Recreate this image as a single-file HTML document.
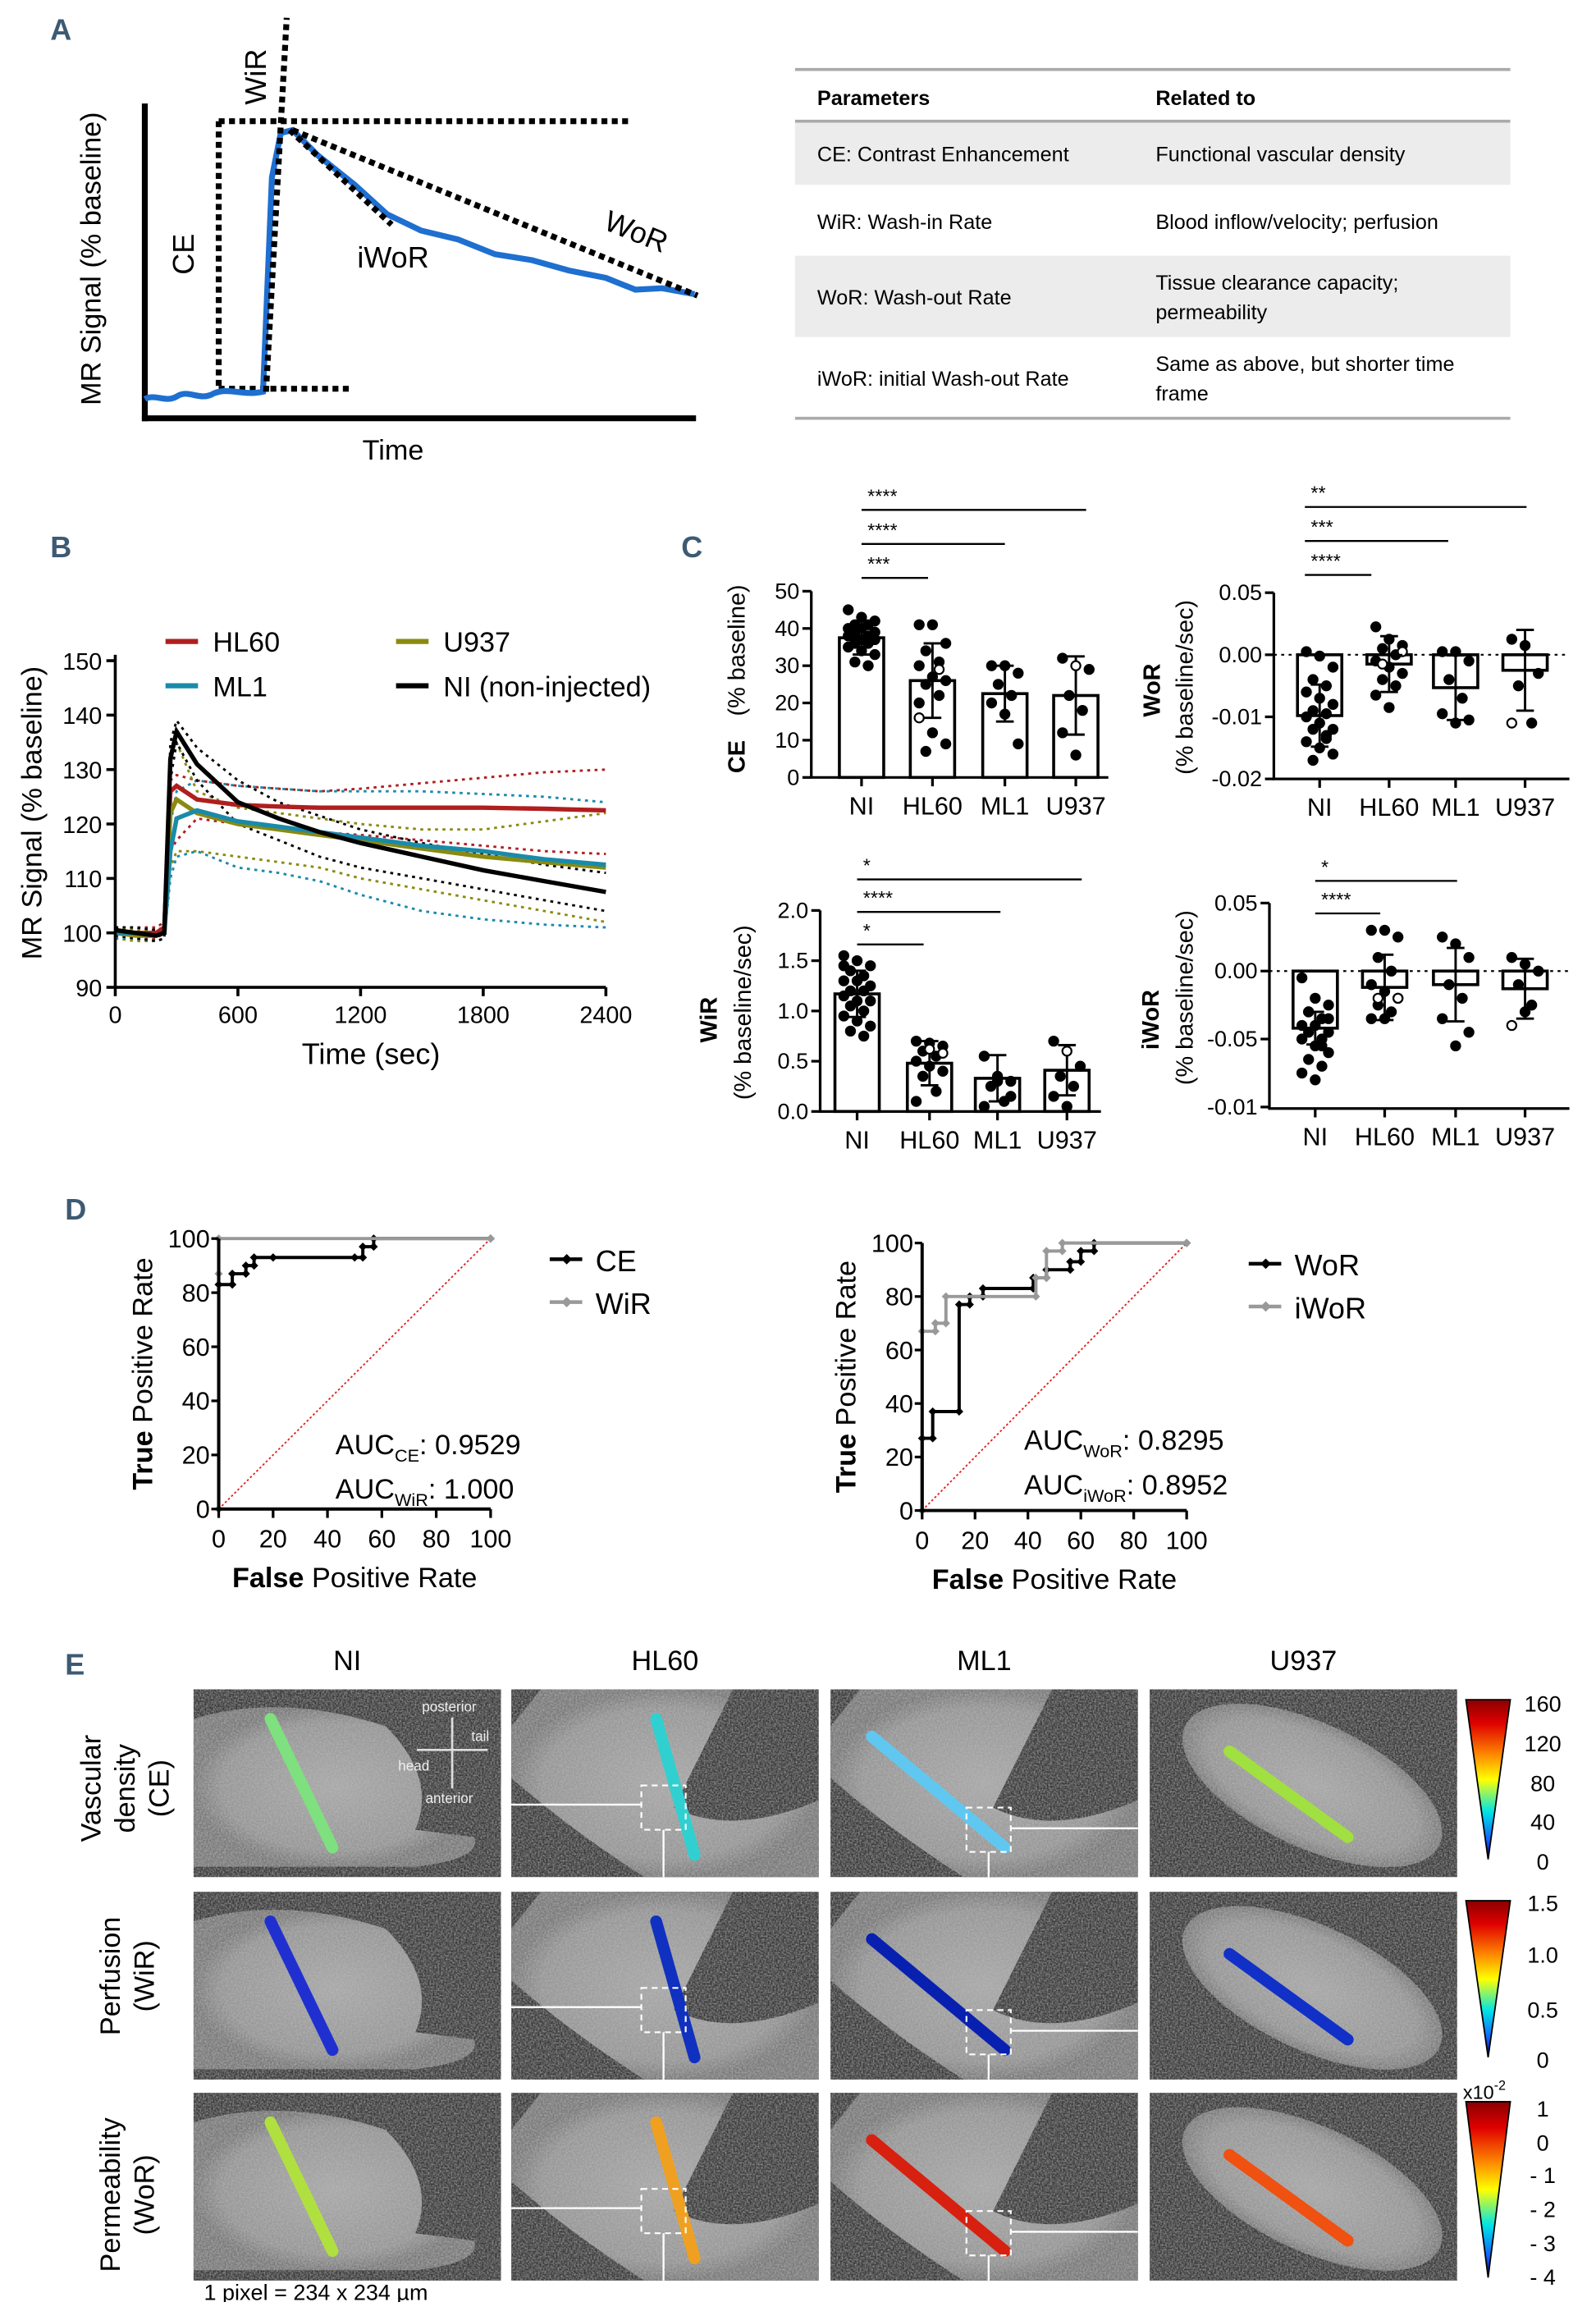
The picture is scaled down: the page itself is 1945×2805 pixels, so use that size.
<!DOCTYPE html>
<html><head><meta charset="utf-8">
<style>
html,body{margin:0;padding:0;background:#fff;}
svg{display:block;font-family:"Liberation Sans Narrow","Liberation Sans",sans-serif;}
.ar{font-family:"Liberation Sans",sans-serif;}
</style></head>
<body>
<svg id="fig" xmlns="http://www.w3.org/2000/svg" width="1945" height="2805" viewBox="0 0 1080 1557.5">
<defs>
<linearGradient id="jet" x1="0" y1="0" x2="0" y2="1">
<stop offset="0" stop-color="#8b0000"/><stop offset="0.15" stop-color="#e00000"/><stop offset="0.35" stop-color="#ff8c00"/><stop offset="0.5" stop-color="#ffff00"/><stop offset="0.7" stop-color="#00e5e5"/><stop offset="0.88" stop-color="#1060ff"/><stop offset="1" stop-color="#000090"/>
</linearGradient>
<radialGradient id="tissue" cx="0.5" cy="0.5" r="0.5"><stop offset="0" stop-color="#a8a8a8"/><stop offset="0.8" stop-color="#959595"/><stop offset="1" stop-color="#787878"/></radialGradient>
<filter id="noise" x="0" y="0" width="1" height="1">
<feTurbulence type="fractalNoise" baseFrequency="0.9" numOctaves="2" seed="3" result="t"/>
<feColorMatrix in="t" type="matrix" values="0 0 0 0 0.5  0 0 0 0 0.5  0 0 0 0 0.5  1.2 0 0 0 -0.35" result="n"/>
<feComposite in="n" in2="SourceGraphic" operator="in"/>
</filter>
</defs>

<!-- Panel labels -->
<text x="34" y="27" font-size="20" font-weight="bold" fill="#3d5a73">A</text>
<text x="34" y="377" font-size="20" font-weight="bold" fill="#3d5a73">B</text>
<text x="461" y="377" font-size="20" font-weight="bold" fill="#3d5a73">C</text>
<text x="44" y="825" font-size="20" font-weight="bold" fill="#3d5a73">D</text>
<text x="44" y="1133" font-size="20" font-weight="bold" fill="#3d5a73">E</text>

<!-- Panel A schematic -->
<g>
<line x1="98" y1="70" x2="98" y2="285" stroke="#000" stroke-width="4"/>
<line x1="96" y1="283" x2="471" y2="283" stroke="#000" stroke-width="4"/>
<text class="ar" transform="translate(68,175) rotate(-90)" text-anchor="middle" font-size="19">MR Signal (% baseline)</text>
<text class="ar" x="266" y="311" text-anchor="middle" font-size="19">Time</text>
<line x1="148" y1="82" x2="148" y2="265" stroke="#000" stroke-width="4" stroke-dasharray="4,3"/>
<line x1="148" y1="82" x2="428" y2="82" stroke="#000" stroke-width="4" stroke-dasharray="4,3"/>
<line x1="148" y1="263" x2="238" y2="263" stroke="#000" stroke-width="4" stroke-dasharray="4,3"/>
<path d="M98,270 C105,266 112,273 120,268 C128,263 135,272 145,266 C155,262 165,268 178,265 L184,120 L190,90 L198,88 L215,105 L240,125 L262,145 L285,156 L310,162 L335,172 L360,176 L385,183 L410,188 L430,196 L448,195 L470,199" fill="none" stroke="#1e6fd0" stroke-width="4"/>
<line x1="180" y1="265" x2="194" y2="12" stroke="#000" stroke-width="4" stroke-dasharray="4,3"/>
<line x1="196" y1="88" x2="265" y2="152" stroke="#000" stroke-width="4" stroke-dasharray="4,3"/>
<line x1="198" y1="88" x2="472" y2="200" stroke="#000" stroke-width="4" stroke-dasharray="4,3"/>
<text class="ar" transform="translate(180,52) rotate(-90)" text-anchor="middle" font-size="20">WiR</text>
<text class="ar" transform="translate(131,172) rotate(-90)" text-anchor="middle" font-size="20">CE</text>
<text class="ar" x="266" y="181" text-anchor="middle" font-size="20">iWoR</text>
<text class="ar" transform="translate(428,163) rotate(22)" text-anchor="middle" font-size="20">WoR</text>
</g>

<!-- Parameters table -->
<g font-size="14" class="ar">
<line x1="538" y1="47" x2="1022" y2="47" stroke="#aaa" stroke-width="2"/>
<text x="553" y="71" font-weight="bold">Parameters</text>
<text x="782" y="71" font-weight="bold">Related to</text>
<line x1="538" y1="82" x2="1022" y2="82" stroke="#aaa" stroke-width="2"/>
<rect x="538" y="83" width="484" height="42" fill="#ececec"/>
<text x="553" y="109">CE: Contrast Enhancement</text>
<text x="782" y="109">Functional vascular density</text>
<text x="553" y="155">WiR: Wash-in Rate</text>
<text x="782" y="155">Blood inflow/velocity; perfusion</text>
<rect x="538" y="173" width="484" height="55" fill="#ececec"/>
<text x="553" y="206">WoR: Wash-out Rate</text>
<text x="782" y="196">Tissue clearance capacity;</text>
<text x="782" y="216">permeability</text>
<text x="553" y="261">iWoR: initial Wash-out Rate</text>
<text x="782" y="251">Same as above, but shorter time</text>
<text x="782" y="271">frame</text>
<line x1="538" y1="283" x2="1022" y2="283" stroke="#aaa" stroke-width="2"/>
</g>

<g id="gB"></g>
<g id="gC"></g>
<g id="gD"></g>
<g id="gE"></g>
</svg>

<script>
// ---------- Panel B data ----------
const tB = [0,100,200,240,270,300,400,600,800,1000,1200,1500,1800,2100,2400];
const hl60Mean = [100,100,100,101,126,127,124.5,123.5,123.2,123,123,123,123,122.8,122.5];
const hl60Hi = [101,101,101,102,128,129,128,127,126.5,126,126.5,127.5,128.5,129.5,130];
const hl60Lo = [99,99,99,100,115,117,121,120,119.5,118.5,118,117,116,115,114.5];
const ml1Mean = [100,100,99.5,100,115,121,122.5,120.5,119.5,118.5,117.5,116,115,113.5,112.5];
const ml1Hi = [101,101,100.5,101,120,126,128,127,126.5,126,126,126,125.5,125,124];
const ml1Lo = [99,99,98.5,99,110,114,115,112,111,109.5,107,104,102.5,101.5,101];
const u937Mean = [100,99.5,99.5,100,122,124.5,122,120,119,118,117,115.5,114,113,112];
const u937Hi = [101,100.5,100.5,101,133,135,126,123,122,121,120,119,119,120.5,122];
const u937Lo = [99,98.5,98.5,99,112,115,115,114,113,112,110,108,106,104,102];
const niMean = [100.5,100,99.5,100,132,137,131,124,121,118.5,116.5,114,111.5,109.5,107.5];
const niHi = [101,101,100.5,101,135,139,134,128,124,121.5,119,116.5,114.5,112.5,111];
const niLo = [99.5,99,98.5,99,128,135,128,120,117,114,112,110,108,106,104];
const bYTicks = [90,100,110,120,130,140,150];
const bXTicks = [0,600,1200,1800,2400];

// ---------- Panel C data ----------
const groups = ["NI","HL60","ML1","U937"];
const ceMean = [37.5,26,22.5,22];
const ceSD = [4.5,10,7.5,10.5];
const cePts = [[45,43,42,41,41,40,40,39,39,38,38,37,37,36,36,35,34,33,31,30],[41,41,36,34,31,30,27,26,25,22,20,12,9,7,29,16],[30,30,28,25,22,20,17,9],[32,30,29,22,18,12,6]];
const worMean = [-0.0098,-0.0015,-0.0053,-0.0025];
const worSD = [0.005,0.0045,0.0052,0.0065];
const worPts = [[0.0005,-0.0002,-0.002,-0.004,-0.005,-0.006,-0.007,-0.008,-0.009,-0.0095,-0.01,-0.011,-0.012,-0.012,-0.013,-0.014,-0.015,-0.016,-0.017,-0.0135],[0.0045,0.0025,0.0015,0.001,0,-0.001,-0.002,-0.003,-0.004,-0.005,-0.0065,-0.0085,0.0005,-0.0015],[0.0005,0.0005,-0.001,-0.004,-0.007,-0.0095,-0.011,-0.0105],[0.0025,0.0015,-0.003,-0.005,-0.011,-0.011]];
const wirMean = [1.17,0.48,0.33,0.41];
const wirSD = [0.23,0.22,0.23,0.25];
const wirPts = [[1.55,1.5,1.45,1.4,1.35,1.3,1.3,1.25,1.2,1.2,1.15,1.1,1.1,1.05,1.0,0.95,0.9,0.85,0.8,0.75,1.45],[0.7,0.68,0.65,0.6,0.55,0.5,0.45,0.4,0.35,0.2,0.1,0.62,0.58],[0.55,0.35,0.3,0.25,0.1,0.05,0.3,0.15],[0.7,0.6,0.45,0.35,0.25,0.15,0.05]];
const iworMean = [-0.042,-0.012,-0.01,-0.013];
const iworSD = [0.012,0.024,0.027,0.022];
const iworPts = [[-0.005,-0.02,-0.025,-0.03,-0.035,-0.04,-0.04,-0.045,-0.045,-0.05,-0.05,-0.055,-0.06,-0.065,-0.07,-0.075,-0.08,-0.035,-0.03,-0.055],[0.03,0.03,0.025,0.01,0,-0.01,-0.015,-0.02,-0.025,-0.03,-0.035,-0.035,-0.02,-0.02],[0.025,0.02,0.01,-0.01,-0.02,-0.035,-0.055,-0.045],[0.01,0.005,0,-0.01,-0.025,-0.04,-0.03]];
const ceTicks = [0,10,20,30,40,50];
const worTicks = [0.01,0,-0.01,-0.02];
const worTickLabels = ["0.05","0.00","-0.01","-0.02"];
const wirTicks = [0,0.5,1.0,1.5,2.0];
const wirTickLabels = ["0.0","0.5","1.0","1.5","2.0"];
const iworTicks = [0.05,0,-0.05,-0.1];
const iworTickLabels = ["0.05","0.00","-0.05","-0.01"];

// ---------- Panel D data ----------
const rocCeX = [0,0,5,5,10,10,13,13,20,50,53,53,57,57,100];
const rocCeY = [0,83,83,87,87,90,90,93,93,93,93,97,97,100,100];
const rocWirX = [0,0,0,100];
const rocWirY = [0,87,100,100];
const rocWorX = [0,0,4,4,14,14,18,18,23,23,42,42,47,47,56,56,60,60,65,65,100];
const rocWorY = [0,27,27,37,37,77,77,80,80,83,83,87,87,90,90,93,93,97,97,100,100];
const rocIworX = [0,0,5,5,9,9,43,43,47,47,53,53,100];
const rocIworY = [0,67,67,70,70,80,80,87,87,97,97,100,100];
const rocTicks = [0,20,40,60,80,100];

const NS = "http://www.w3.org/2000/svg";
function mk(tag, a, parent){ const e=document.createElementNS(NS,tag); for(const k in a) e.setAttribute(k,a[k]); parent.appendChild(e); return e; }
function txt(parent, s, a){ const e=mk("text",a,parent); e.textContent=s; return e; }

// ================= Panel B =================
(function(){
  const g = document.getElementById("gB");
  const x0=78,x1=410,y0=668,y1=447;
  const X = t => x0 + (t/2400)*(x1-x0);
  const Y = v => y0 - (v-90)/60*(y0-y1);
  const pathOf = (ts,vs) => ts.map((t,i)=>(i?"L":"M")+X(t).toFixed(1)+","+Y(vs[i]).toFixed(1)).join(" ");
  const series = [
    ["hl60", "#b01e1e", hl60Mean, hl60Hi, hl60Lo],
    ["u937", "#8a8a10", u937Mean, u937Hi, u937Lo],
    ["ml1", "#1a8aaa", ml1Mean, ml1Hi, ml1Lo],
    ["ni", "#000000", niMean, niHi, niLo]
  ];
  series.forEach(s=>{
    const hi = mk("path",{d:pathOf(tB,s[3]),fill:"none",stroke:s[1],"stroke-width":1.6,"stroke-dasharray":"2,3"},g);
    
    
    const lo = mk("path",{d:pathOf(tB,s[4]),fill:"none",stroke:s[1],"stroke-width":1.6,"stroke-dasharray":"2,3"},g);
    
    
  });
  series.forEach(s=>{
    const m = mk("path",{d:pathOf(tB,s[2]),fill:"none",stroke:s[1],"stroke-width":3},g);
    
    
  });
  const ax = mk("path",{d:`M${x0},${y1-4} L${x0},${y0} L${x1},${y0}`,fill:"none",stroke:"#000","stroke-width":2},g);
  
  
  bYTicks.forEach(v=>{
    const tk = mk("line",{x1:x0-6,x2:x0,y1:Y(v),y2:Y(v),stroke:"#000","stroke-width":2},g);
    
    
    const tl = txt(g, String(v), {x:x0-9,y:Y(v)+6,"text-anchor":"end","font-size":16});
    
    
  });
  bXTicks.forEach(v=>{
    const tk = mk("line",{x1:X(v),x2:X(v),y1:y0,y2:y0+6,stroke:"#000","stroke-width":2},g);
    
    
    const tl = txt(g, String(v), {x:X(v),y:y0+24,"text-anchor":"middle","font-size":16});
    
    
  });
  const yt = txt(g,"MR Signal (% baseline)",{transform:"translate(28,550) rotate(-90)","text-anchor":"middle","font-size":19,class:"ar"});
  
  
  const xt = txt(g,"Time (sec)",{x:251,y:720,"text-anchor":"middle","font-size":20});
  
  
  const leg = [["HL60","#b01e1e",112,434],["ML1","#1a8aaa",112,464],["U937","#8a8a10",268,434],["NI (non-injected)","#000",268,464]];
  leg.forEach(l=>{
    const ln = mk("line",{x1:l[2],x2:l[2]+22,y1:l[3],y2:l[3],stroke:l[1],"stroke-width":3.5},g);
    
    
    const lt = txt(g,l[0],{x:l[2]+32,y:l[3]+7,"font-size":19});
    
    
  });
})();

// ================= Panel C =================
function barChart(cfg){
  const g = document.getElementById("gC");
  const sub = mk("g",{},g);
  
  
  const Y = v => cfg.yBase + (v - cfg.vBase) * cfg.k;
  const zeroY = Y(0);
  cfg.mean.forEach((m,i)=>{
    const cx = cfg.xs[i];
    const top = Math.min(Y(m), zeroY), h = Math.abs(Y(m)-zeroY);
    const bar = mk("rect",{x:cx-15,y:top,width:30,height:h,fill:"#fff",stroke:"#000","stroke-width":2},sub);
    
    
    const hiY = Y(m+cfg.sd[i]), loY = Y(m-cfg.sd[i]);
    const eb = mk("path",{d:`M${cx},${hiY} L${cx},${loY} M${cx-6},${hiY} L${cx+6},${hiY} M${cx-6},${loY} L${cx+6},${loY}`,stroke:"#000","stroke-width":1.6,fill:"none"},sub);
    
    
    cfg.pts[i].forEach((v,j)=>{
      const jit = ((j*7)%5 - 2) * 4.5;
      const open = (cfg.open && cfg.open[i] && cfg.open[i].includes(j));
      const dot = mk("circle",{cx:cx+jit,cy:Y(v),r:3.1,fill:open?"#fff":"#000",stroke:"#000","stroke-width":1.2},sub);
      
      
    });
    const gl = txt(sub, groups[i], {x:cx,y:cfg.xAxisY+25,"text-anchor":"middle","font-size":17});
    
    
  });
  if (cfg.zeroDotted){
    const zl = mk("line",{x1:cfg.xAxis0,x2:cfg.xAxis1,y1:zeroY,y2:zeroY,stroke:"#000","stroke-width":1.2,"stroke-dasharray":"2,3"},sub);
    
    
  }
  const ax = mk("path",{d:`M${cfg.xAxis0},${Y(cfg.ticks[cfg.topTick])} L${cfg.xAxis0},${cfg.xAxisY} L${cfg.xAxis1},${cfg.xAxisY}`,fill:"none",stroke:"#000","stroke-width":1.8},sub);
  
  
  cfg.xs.forEach(cx=>{
    const tk = mk("line",{x1:cx,x2:cx,y1:cfg.xAxisY,y2:cfg.xAxisY+6,stroke:"#000","stroke-width":1.8},sub);
    
    
  });
  cfg.ticks.forEach((v,i)=>{
    const tk = mk("line",{x1:cfg.xAxis0-6,x2:cfg.xAxis0,y1:Y(v),y2:Y(v),stroke:"#000","stroke-width":1.8},sub);
    
    
    const tl = txt(sub, cfg.tickLabels[i], {x:cfg.xAxis0-8,y:Y(v)+5,"text-anchor":"end","font-size":15});
    
    
  });
  cfg.sig.forEach(s=>{
    const sl = mk("line",{x1:s[0],x2:s[1],y1:s[2],y2:s[2],stroke:"#000","stroke-width":1.3},sub);
    
    
    const st = txt(sub, s[3], {x:s[0]+4,y:s[2]-5,"font-size":13});
    
    
  });
  const t1 = txt(sub, cfg.title, {transform:`translate(${cfg.titleX},${cfg.titleY}) rotate(-90)`,"text-anchor":"middle","font-size":16,"font-weight":"bold",class:"ar"});
  
  
  const t2 = txt(sub, cfg.title2, {transform:`translate(${cfg.title2X},${cfg.title2Y}) rotate(-90)`,"text-anchor":"middle","font-size":16,class:"ar"});
  
  
}
barChart({name:"ce-bar-chart",xs:[583,631,680,728],mean:ceMean,sd:ceSD,pts:cePts,open:[[],[14,15],[],[1]],topTick:5,
  vBase:0,yBase:526,k:-126/50,ticks:ceTicks,tickLabels:ceTicks.map(String),xAxis0:549,xAxis1:750,xAxisY:526,
  sig:[[583,735,345,"****"],[583,680,368,"****"],[583,628,391,"***"]],
  title:"CE",titleX:504,titleY:512,title2:"(% baseline)",title2X:504,title2Y:440});
barChart({name:"wor-bar-chart",xs:[893,940,985,1032],mean:worMean,sd:worSD,pts:worPts,open:[[],[12,13],[],[5]],zeroDotted:true,topTick:0,
  vBase:0,yBase:443,k:-4200,ticks:worTicks,tickLabels:worTickLabels,xAxis0:862,xAxis1:1062,xAxisY:527,
  sig:[[883,1033,343,"**"],[883,980,366,"***"],[883,928,389,"****"]],
  title:"WoR",titleX:785,titleY:467,title2:"(% baseline/sec)",title2X:807,title2Y:465});
barChart({name:"wir-bar-chart",xs:[580,629,675,722],mean:wirMean,sd:wirSD,pts:wirPts,open:[[],[11,12],[],[1]],topTick:4,
  vBase:0,yBase:752,k:-68,ticks:wirTicks,tickLabels:wirTickLabels,xAxis0:555,xAxis1:745,xAxisY:752,
  sig:[[580,732,595,"*"],[580,677,617,"****"],[580,625,639,"*"]],
  title:"WiR",titleX:485,titleY:690,title2:"(% baseline/sec)",title2X:508,title2Y:685});
barChart({name:"iwor-bar-chart",xs:[890,937,985,1032],mean:iworMean,sd:iworSD,pts:iworPts,open:[[],[12,13],[],[5]],zeroDotted:true,topTick:0,
  vBase:0,yBase:657,k:-920,ticks:iworTicks,tickLabels:iworTickLabels,xAxis0:859,xAxis1:1062,xAxisY:750,
  sig:[[890,986,596,"*"],[890,934,618,"****"]],
  title:"iWoR",titleX:784,titleY:690,title2:"(% baseline/sec)",title2X:807,title2Y:675});

// ================= Panel D =================
function roc(cfg){
  const g = document.getElementById("gD");
  const sub = mk("g",{},g);
  
  
  const X = v => cfg.x0 + v/100*(cfg.x1-cfg.x0);
  const Y = v => cfg.y0 - v/100*(cfg.y0-cfg.y1);
  const diag = mk("line",{x1:X(0),y1:Y(0),x2:X(100),y2:Y(100),stroke:"#e02020","stroke-width":1,"stroke-dasharray":"1.5,1.5"},sub);
  
  
  cfg.series.forEach(s=>{
    const d = s.xs.map((v,i)=>(i?"L":"M")+X(v)+","+Y(s.ys[i])).join(" ");
    const p = mk("path",{d:d,fill:"none",stroke:s.color,"stroke-width":2.2},sub);
    
    
    s.xs.forEach((v,i)=>{
      const m = mk("rect",{x:X(v)-2,y:Y(s.ys[i])-2,width:4,height:4,fill:s.color,transform:`rotate(45 ${X(v)} ${Y(s.ys[i])})`},sub);
      
      
    });
  });
  const ax = mk("path",{d:`M${cfg.x0},${cfg.y1} L${cfg.x0},${cfg.y0} L${cfg.x1},${cfg.y0}`,fill:"none",stroke:"#000","stroke-width":2.2},sub);
  
  
  rocTicks.forEach(v=>{
    const ty = mk("line",{x1:cfg.x0-5,x2:cfg.x0,y1:Y(v),y2:Y(v),stroke:"#000","stroke-width":1.8},sub);
    
    
    const ly = txt(sub,String(v),{x:cfg.x0-6,y:Y(v)+6,"text-anchor":"end","font-size":17});
    
    
    const tx = mk("line",{x1:X(v),x2:X(v),y1:cfg.y0,y2:cfg.y0+6,stroke:"#000","stroke-width":1.8},sub);
    
    
    const lx = txt(sub,String(v),{x:X(v),y:cfg.y0+26,"text-anchor":"middle","font-size":17});
    
    
  });
  const yt = txt(sub,"",{transform:`translate(${cfg.x0-45},${(cfg.y0+cfg.y1)/2}) rotate(-90)`,"text-anchor":"middle","font-size":19,class:"ar"});
  
  
  yt.innerHTML = '<tspan font-weight="bold">True</tspan> Positive Rate';
  const xt = txt(sub,"",{x:(cfg.x0+cfg.x1)/2,y:cfg.y0+53,"text-anchor":"middle","font-size":19});
  
  
  xt.innerHTML = '<tspan font-weight="bold">False</tspan> Positive Rate';
  cfg.series.forEach((s,i)=>{
    const ly = cfg.legY + i*29;
    const ll = mk("line",{x1:cfg.legX,x2:cfg.legX+22,y1:ly,y2:ly,stroke:s.color,"stroke-width":2.5},sub);
    
    
    const lm = mk("rect",{x:cfg.legX+9,y:ly-2.5,width:5,height:5,fill:s.color,transform:`rotate(45 ${cfg.legX+11.5} ${ly})`},sub);
    
    
    const lt = txt(sub,s.label,{x:cfg.legX+31,y:ly+8,"font-size":20});
    
    
    const au = txt(sub,"",{x:cfg.aucX,y:cfg.aucY+i*30,"font-size":19});
    
    
    au.innerHTML = 'AUC<tspan font-size="12" dy="5">'+s.label+'</tspan><tspan dy="-5">: '+s.auc+'</tspan>';
  });
}
roc({name:"roc-ce-wir",x0:148,x1:332,y0:1021,y1:838,legX:372,legY:852,aucX:227,aucY:984,
  series:[{key:"wir",label:"WiR",color:"#999",xs:rocWirX,ys:rocWirY,auc:"1.000"},{key:"ce",label:"CE",color:"#000",xs:rocCeX,ys:rocCeY,auc:"0.9529"}].reverse()});
roc({name:"roc-wor-iwor",x0:624,x1:803,y0:1022,y1:841,legX:845,legY:855,aucX:693,aucY:981,
  series:[{key:"iwor",label:"iWoR",color:"#999",xs:rocIworX,ys:rocIworY,auc:"0.8952"},{key:"wor",label:"WoR",color:"#000",xs:rocWorX,ys:rocWorY,auc:"0.8295"}].reverse()});

// ================= Panel E =================
(function(){
  const g = document.getElementById("gE");
  const cols = [["NI",131],["HL60",346],["ML1",562],["U937",778]];
  const rows = [1143,1280,1416];
  const W=208,H=127;
  const bones = [[52,20,94,107],[98,20,124,112],[28,32,118,107],[54,42,134,100]];
  const colors = [["#7ee07e","#30d0d0","#60c8f0","#a0e040"],["#2030d0","#1030c0","#0820b0","#1030c8"],["#b0e040","#f0a020","#d82010","#f05010"]];
  cols.forEach((c,ci)=>{
    const ct = txt(g,c[0],{x:c[1]+W/2,y:1130,"text-anchor":"middle","font-size":19});
    
    
    rows.forEach((ry,ri)=>{
      const cx=c[1];
      const bg = mk("rect",{x:cx,y:ry,width:W,height:H,fill:"#383838"},g);
      
      
      let tis;
      if(ci===3) tis = mk("ellipse",{cx:cx+110,cy:ry+65,rx:95,ry:42,fill:"url(#tissue)",transform:`rotate(25 ${cx+110} ${ry+65})`},g);
      else if(ci===0) tis = mk("path",{d:`M${cx},${ry+20} Q${cx+60},${ry+2} ${cx+130},${ry+25} Q${cx+165},${ry+60} ${cx+150},${ry+95} L${cx+190},${ry+100} Q${cx+195},${ry+115} ${cx+150},${ry+120} L${cx},${ry+120} Z`,fill:"url(#tissue)"},g);
      else tis = mk("path",{d:`M${cx},${ry+25} L${cx+20},${ry} L${cx+150},${ry} L${cx+110},${ry+80} Q${cx+150},${ry+100} ${cx+W},${ry+75} L${cx+W},${ry+H} L${cx+90},${ry+H} Q${cx+40},${ry+95} ${cx},${ry+60} Z`,fill:"url(#tissue)"},g);
      
      
      const nz = mk("rect",{x:cx,y:ry,width:W,height:H,fill:"#fff",filter:"url(#noise)"},g);
      
      
      const b = bones[ci];
      const bone = mk("line",{x1:cx+b[0],y1:ry+b[1],x2:cx+b[2],y2:ry+b[3],stroke:colors[ri][ci],"stroke-width":8,"stroke-linecap":"round"},g);
      
      
      if(ci===1||ci===2){
        const bx = ci===1 ? cx+88 : cx+92, by = ci===1 ? ry+65 : ry+80;
        const box = mk("rect",{x:bx,y:by,width:30,height:30,fill:"none",stroke:"#fff","stroke-width":1.2,"stroke-dasharray":"4,3"},g);
        
        
        const ln = mk("path",{d: ci===1 ? `M${cx},${by+13} L${bx},${by+13} M${bx+15},${by+30} L${bx+15},${ry+H}` : `M${bx+30},${by+14} L${cx+W},${by+14} M${bx+15},${by+30} L${bx+15},${ry+H}`,stroke:"#fff","stroke-width":1.3,fill:"none"},g);
        
        
      }
    });
  });
  const ok = mk("path",{d:"M282,1184 L330,1184 M306,1162 L306,1210",stroke:"#ddd","stroke-width":1.5,fill:"none"},g);
  
  
  [["posterior",304,1158],["tail",325,1178],["head",280,1198],["anterior",304,1220]].forEach(o=>{
    const t = txt(g,o[0],{x:o[1],y:o[2],"text-anchor":"middle","font-size":9.5,fill:"#eee",class:"ar"});
    
    
  });
  [["Vascular",62,1210],["density",85,1210],["(CE)",108,1210],["Perfusion",75,1337],["(WiR)",98,1337],["Permeability",75,1485],["(WoR)",98,1485]].forEach(r=>{
    const t = txt(g,r[0],{transform:`translate(${r[1]+6},${r[2]}) rotate(-90)`,"text-anchor":"middle","font-size":19,class:"ar"});
    
    
  });
  [[1150,1258],[1286,1392],[1422,1541]].forEach(cb=>{
    const tri = mk("path",{d:`M992,${cb[0]} L1022,${cb[0]} L1007,${cb[1]} Z`,fill:"url(#jet)",stroke:"#000","stroke-width":1},g);
    
    
  });
  const cbl = [["160",1158],["120",1185],["80",1212],["40",1238],["0",1265],["1.5",1293],["1.0",1328],["0.5",1365],["0",1399],["1",1432],["0",1455],["- 1",1477],["- 2",1500],["- 3",1523],["- 4",1546]];
  cbl.forEach(l=>{
    const t = txt(g,l[0],{x:1044,y:l[1],"text-anchor":"middle","font-size":15});
    
    
  });
  const ex = txt(g,"",{x:990,y:1420,"font-size":13});
  
  
  ex.innerHTML = 'x10<tspan font-size="9" dy="-6">-2</tspan>';
  const sc = txt(g,"1 pixel = 234 x 234 µm",{x:138,y:1556,"font-size":15});
  
  
})();
</script>
</body></html>
